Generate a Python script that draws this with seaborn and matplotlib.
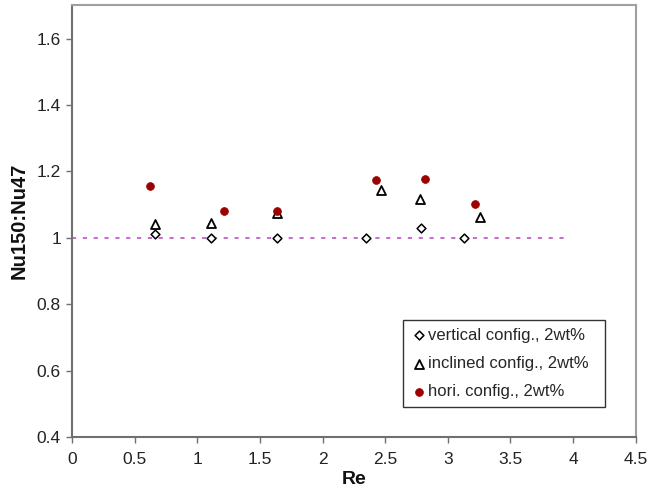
import matplotlib
matplotlib.use("Agg")
import matplotlib.pyplot as plt
import seaborn as sns
import pandas as pd

sns.set_theme(style="white")
plt.rcParams['font.family'] = ['Liberation Sans', 'DejaVu Sans']

# data
re_vertical = [0.66, 1.11, 1.64, 2.35, 2.79, 3.13]
nu_vertical = [1.01, 1.00, 1.00, 1.00, 1.028, 1.00]
re_inclined = [0.66, 1.11, 1.64, 2.47, 2.78, 3.26]
nu_inclined = [1.042, 1.045, 1.075, 1.143, 1.117, 1.063]
re_hori = [0.62, 1.21, 1.64, 2.43, 2.82, 3.22]
nu_hori = [1.155, 1.082, 1.08, 1.173, 1.176, 1.102]
labels = ["vertical config., 2wt%", "inclined config., 2wt%", "hori. config., 2wt%"]
ref_x = [0, 3.95]
ref_y = [1.0, 1.0]
xticks = [0, 0.5, 1, 1.5, 2, 2.5, 3, 3.5, 4, 4.5]
yticks = [0.4, 0.6, 0.8, 1.0, 1.2, 1.4, 1.6]
yticklabels = ["0.4", "0.6", "0.8", "1", "1.2", "1.4", "1.6"]

fig = plt.figure(figsize=(6.49, 4.91), dpi=100)
ax = fig.add_axes([72/649, 1 - 437/491, (635.7-72)/649, (437-5.3)/491])

ax.plot(ref_x, ref_y, linestyle=(0, (2.5, 4)), color="#c050c8", linewidth=1.2, zorder=1)

df_v = pd.DataFrame({"Re": re_vertical, "Nu": nu_vertical})
df_i = pd.DataFrame({"Re": re_inclined, "Nu": nu_inclined})
df_h = pd.DataFrame({"Re": re_hori, "Nu": nu_hori})

sns.scatterplot(data=df_v, x="Re", y="Nu", ax=ax, marker="D", s=20,
                facecolor="white", edgecolor="black", linewidth=1.1, label=labels[0], zorder=3)
sns.scatterplot(data=df_i, x="Re", y="Nu", ax=ax, marker="^", s=42,
                facecolor="white", edgecolor="black", linewidth=1.3, label=labels[1], zorder=3)
sns.scatterplot(data=df_h, x="Re", y="Nu", ax=ax, marker="o", s=32,
                facecolor="#9c0000", edgecolor="#9c0000", linewidth=0.5, label=labels[2], zorder=4)

ax.set_xlim(0, 4.5)
ax.set_ylim(0.4, 1.7)
ax.set_xticks(xticks)
ax.set_xticklabels([f"{t:g}" for t in xticks])
ax.set_yticks(yticks)
ax.set_yticklabels(yticklabels)
ax.tick_params(axis="both", which="major", direction="out", length=4, width=1,
               color="#707070", labelsize=12.5, labelcolor="#222222", pad=4, left=True, bottom=True)
ax.tick_params(axis="x", pad=7)

for side in ["left", "bottom"]:
    ax.spines[side].set_color("#707070")
    ax.spines[side].set_linewidth(1.5)
for side in ["top", "right"]:
    ax.spines[side].set_color("#a0a0a0")
    ax.spines[side].set_linewidth(1.5)

ax.set_xlabel("Re", fontsize=14, fontweight="bold", color="#111111", labelpad=3)
ax.set_ylabel("Nu150:Nu47", fontsize=14.5, fontweight="bold", color="#111111", labelpad=6)

leg = ax.legend(loc="lower left", bbox_to_anchor=(0.587, 0.0695, 0.3585, 0.2015), mode="expand",
                frameon=True, fancybox=False, fontsize=12, handletextpad=0.05,
                handlelength=1.0, borderpad=0.45, labelspacing=0.8, borderaxespad=0)
leg.get_frame().set_edgecolor("#333333")
leg.get_frame().set_linewidth(1.0)
leg.get_frame().set_alpha(1)

fig.savefig("out.png", dpi=100, facecolor="white")
